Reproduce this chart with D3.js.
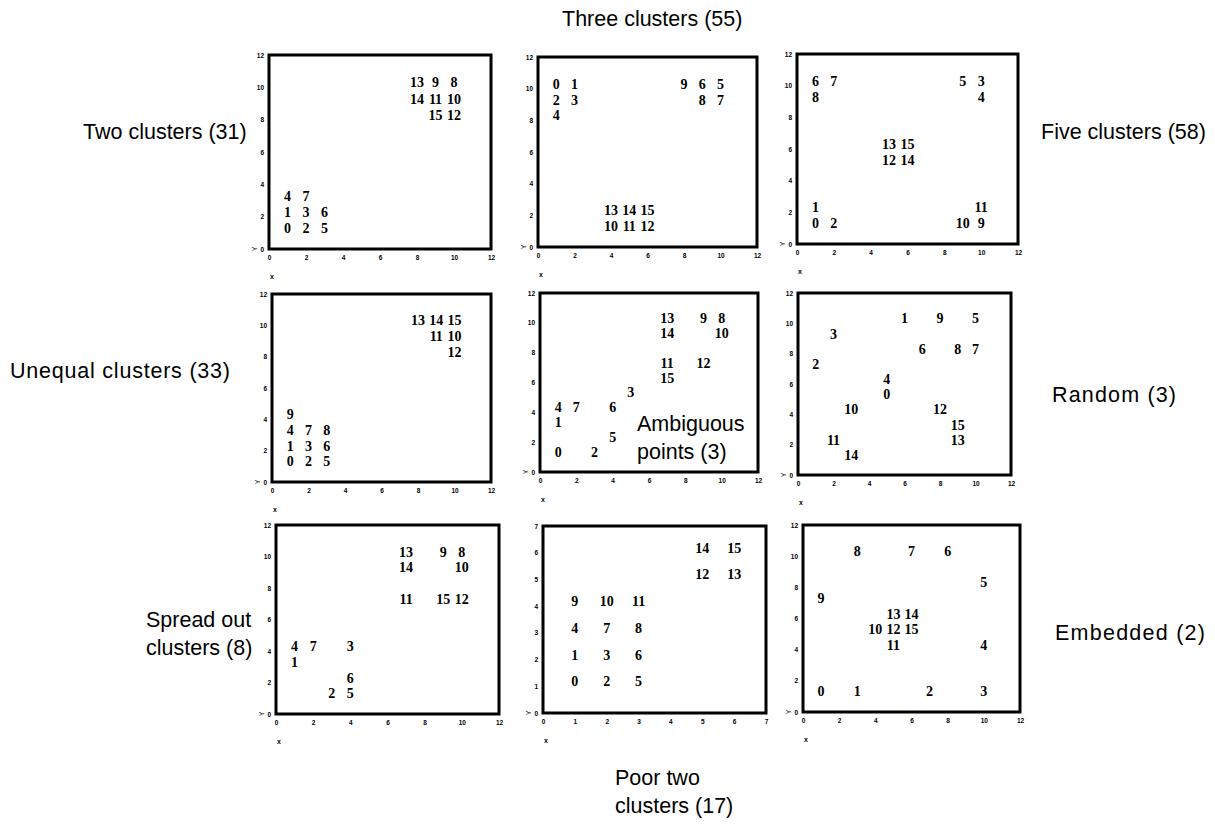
<!DOCTYPE html>
<html>
<head>
<meta charset="utf-8">
<script src="https://cdn.jsdelivr.net/npm/d3@7"></script>
<style>
  html, body { margin: 0; padding: 0; background: #fff; }
  svg { display: block; }
</style>
</head>
<body>
<svg id="chart" width="1215" height="827"></svg>
<script>
// ---- data: point ids and (x, y) per panel, indexed by id ----
const pointIds = [0,1,2,3,4,5,6,7,8,9,10,11,12,13,14,15];

const twoX   = [1,1,2,2,1,3,3,2,10,9,10,9,10,8,8,9];
const twoY   = [1,2,1,2,3,1,2,3,10,10,9,9,8,10,9,8];

const threeX = [1,2,1,2,1,10,9,10,9,8,4,5,6,4,5,6];
const threeY = [10,10,9,9,8,10,10,9,9,10,1,1,1,2,2,2];

const fiveX  = [1,1,2,10,10,9,1,2,1,10,9,10,5,5,6,6];
const fiveY  = [1,2,1,10,9,10,10,10,9,1,1,2,5,6,5,6];

const unequalX = [1,1,2,2,1,3,3,2,3,1,10,9,10,8,9,10];
const unequalY = [1,2,1,2,3,1,2,3,3,4,9,9,8,10,10,10];

const ambigX = [1,1,3,5,1,4,4,2,10,9,10,7,9,7,7,7];
const ambigY = [1,3,1,5,4,2,4,4,10,10,9,7,7,10,9,6];

const randomX = [5,6,1,2,5,10,7,10,9,8,3,2,8,9,3,9];
const randomY = [5,10,7,9,6,10,8,8,8,10,4,2,4,2,1,3];

const spreadX = [null,1,3,4,1,4,4,2,10,9,10,7,10,7,7,9];
const spreadY = [null,3,1,4,4,1,2,4,10,10,9,7,7,10,9,7];

const poorX = [1,1,2,2,1,3,3,2,3,1,2,3,5,6,5,6];
const poorY = [1,2,1,2,3,1,2,3,3,4,4,4,5,5,6,6];

const embedX = [1,3,7,10,10,10,8,6,3,1,4,5,5,5,6,6];
const embedY = [1,1,1,1,4,8,10,10,10,7,5,4,5,6,6,5];

const ticks12 = [0,2,4,6,8,10,12];
const ticks7  = [0,1,2,3,4,5,6,7];

const panelTitles = [
  ["Two clusters (31)"], ["Three clusters (55)"], ["Five clusters (58)"],
  ["Unequal clusters (33)"], ["Ambiguous", "points (3)"], ["Random (3)"],
  ["Spread out", "clusters (8)"], ["Poor two", "clusters (17)"], ["Embedded (2)"]
];

// ---- layout (pixel boxes of each frame) ----
const panels = [
  {xs: twoX,     ys: twoY,     max: 12, ticks: ticks12, box: [269, 55, 491, 249]},
  {xs: threeX,   ys: threeY,   max: 12, ticks: ticks12, box: [538, 57, 757, 247]},
  {xs: fiveX,    ys: fiveY,    max: 12, ticks: ticks12, box: [797, 54, 1018, 244]},
  {xs: unequalX, ys: unequalY, max: 12, ticks: ticks12, box: [272, 294, 491, 482]},
  {xs: ambigX,   ys: ambigY,   max: 12, ticks: ticks12, box: [540, 293, 758, 472]},
  {xs: randomX,  ys: randomY,  max: 12, ticks: ticks12, box: [798, 293, 1011, 475]},
  {xs: spreadX,  ys: spreadY,  max: 12, ticks: ticks12, box: [276, 525, 499, 714]},
  {xs: poorX,    ys: poorY,    max: 7,  ticks: ticks7,  box: [543, 526, 766, 713]},
  {xs: embedX,   ys: embedY,   max: 12, ticks: ticks12, box: [803, 525, 1020, 712]}
];

// title placements: [x, y of first line baseline]
const titlePos = [
  [83, 139], [562, 26], [1041, 139],
  [10, 378], [637, 431], [1052, 402],
  [146, 627], [615, 785], [1055, 640]
];
// measured widths for single-line titles (null = natural width)
const titleLen = [null, null, null, 220, null, 124, null, null, 150];

const svg = d3.select("#chart");

panels.forEach((p, i) => {
  const [x0, y0, x1, y1] = p.box;
  const x = d3.scaleLinear().domain([0, p.max]).range([x0, x1]);
  const y = d3.scaleLinear().domain([0, p.max]).range([y1, y0]);
  const g = svg.append("g");

  // axes (tick labels only)
  const fmt = d3.format("d");
  const xAxis = d3.axisBottom(x).tickValues(p.ticks).tickFormat(fmt).tickSize(0).tickPadding(6);
  const yAxis = d3.axisLeft(y).tickValues(p.ticks).tickFormat(fmt).tickSize(0).tickPadding(5);
  const gx = g.append("g").attr("transform", `translate(0,${y1})`).call(xAxis);
  const gy = g.append("g").attr("transform", `translate(${x0},0)`).call(yAxis);
  [gx, gy].forEach(a => {
    a.select(".domain").remove();
    a.selectAll("text")
      .attr("font-family", "Liberation Sans, Arial, sans-serif")
      .attr("font-size", 6.5)
      .attr("font-weight", "bold")
      .attr("fill", "#000");
  });

  // frame
  g.append("rect")
    .attr("x", x0).attr("y", y0)
    .attr("width", x1 - x0).attr("height", y1 - y0)
    .attr("fill", "none").attr("stroke", "#000").attr("stroke-width", 3);

  // axis names
  g.append("text")
    .attr("transform", `translate(${x0 - 14},${y1}) rotate(-90)`)
    .attr("text-anchor", "middle")
    .attr("dy", "0.35em")
    .attr("font-family", "Liberation Sans, Arial, sans-serif")
    .attr("font-size", 7).attr("fill", "#000")
    .text("Y");
  g.append("text")
    .attr("x", x0 + 3).attr("y", y1 + 30)
    .attr("text-anchor", "middle")
    .attr("font-family", "Liberation Sans, Arial, sans-serif")
    .attr("font-size", 7).attr("font-weight", "bold").attr("fill", "#000")
    .text("x");

  // point id labels
  const pts = pointIds.map(id => ({id, vx: p.xs[id], vy: p.ys[id]}))
    .filter(d => d.vx != null && d.vy != null);
  g.selectAll("text.pt").data(pts).join("text")
    .attr("class", "pt")
    .attr("x", d => x(d.vx))
    .attr("y", d => y(d.vy))
    .attr("text-anchor", "middle")
    .attr("font-family", "Liberation Serif, Times New Roman, serif")
    .attr("font-weight", "bold")
    .attr("font-size", 14)
    .attr("fill", "#000")
    .text(d => d.id);
});

// panel titles
panelTitles.forEach((lines, i) => {
  const [tx, ty] = titlePos[i];
  lines.forEach((line, j) => {
    const t = svg.append("text")
      .attr("x", tx).attr("y", ty + j * 28)
      .attr("font-family", "Liberation Sans, Arial, sans-serif")
      .attr("font-size", 21.5)
      .attr("fill", "#000")
      .text(line);
    if (titleLen[i] && lines.length === 1) {
      t.attr("textLength", titleLen[i]).attr("lengthAdjust", "spacing");
    }
  });
});
</script>
</body>
</html>
